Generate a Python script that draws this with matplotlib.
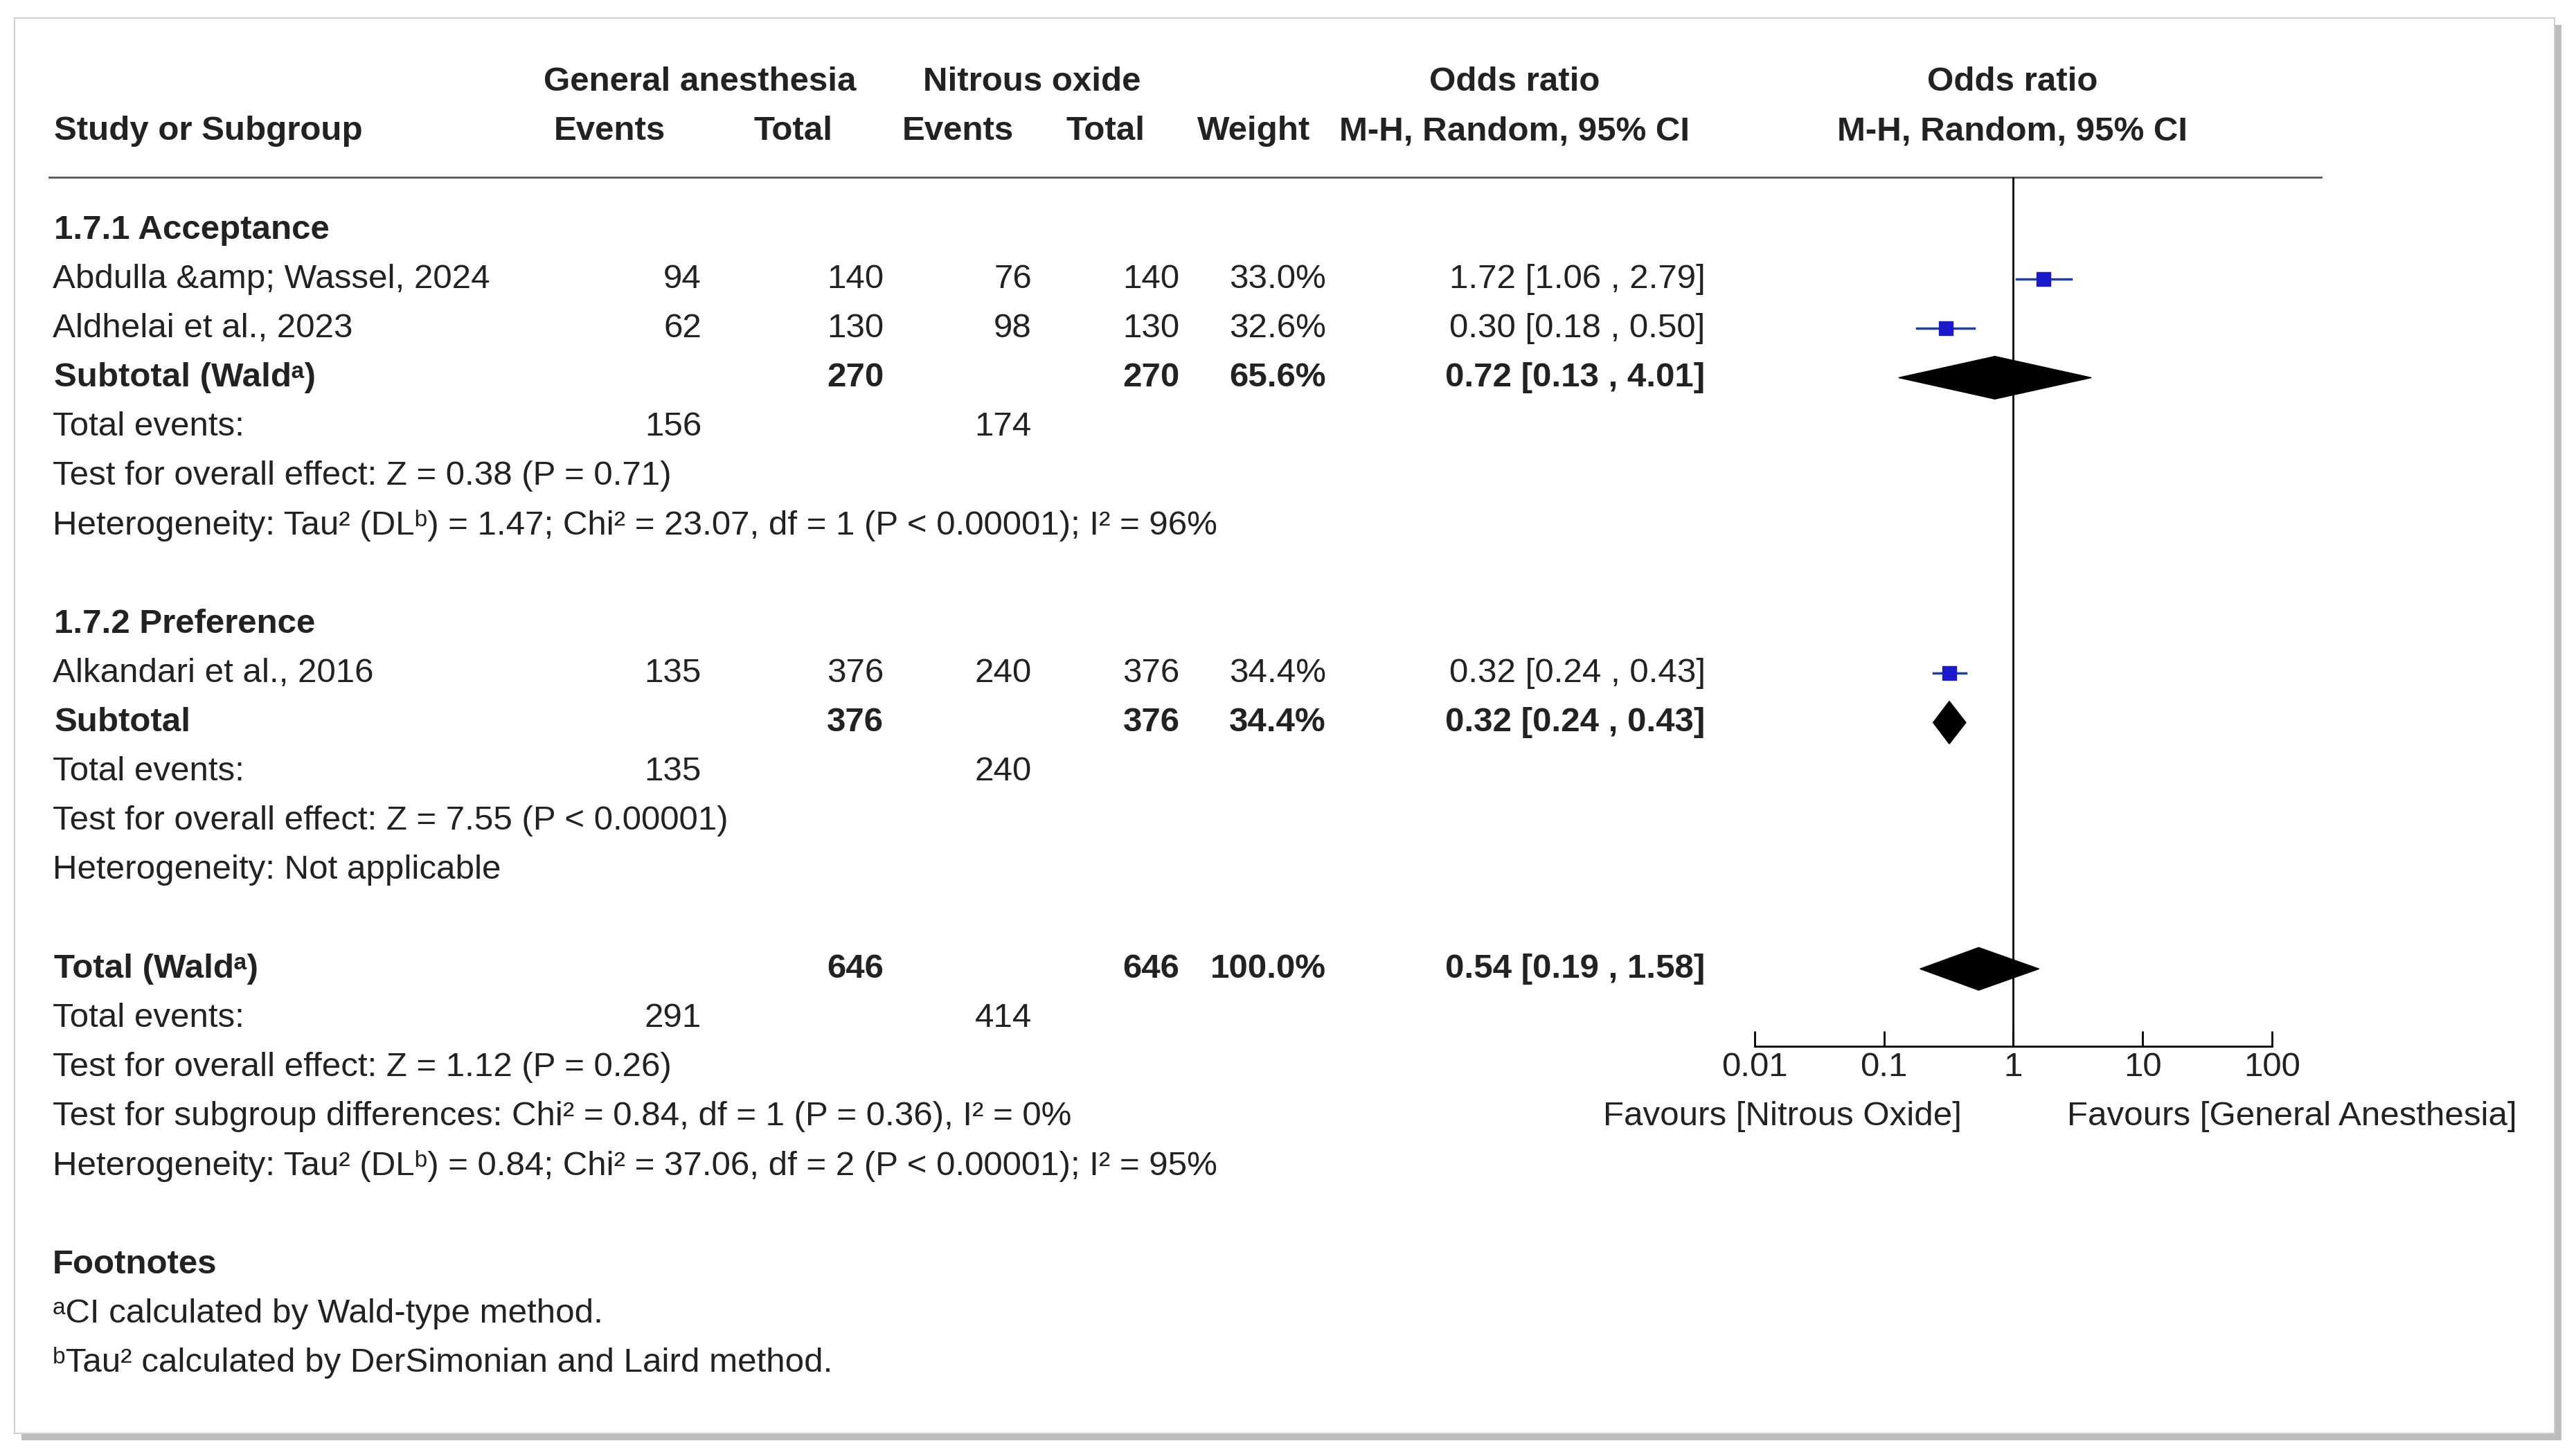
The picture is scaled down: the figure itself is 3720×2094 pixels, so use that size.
import matplotlib
matplotlib.use("Agg")
import matplotlib.pyplot as plt
from matplotlib.patches import Rectangle, Polygon
import numpy as np

W, H = 1568, 883
FS = 35.5
FAM = ['Liberation Sans', 'DejaVu Sans']

studies = ["Abdulla &amp; Wassel, 2024", "Aldhelai et al., 2023", "Alkandari et al., 2016"]
ga_events = [94, 62, 135]
ga_total = [140, 130, 376]
no_events = [76, 98, 240]
no_total = [140, 130, 376]
weights = ["33.0%", "32.6%", "34.4%"]
weight_vals = [33.0, 32.6, 34.4]
or_est = [1.72, 0.30, 0.32]
or_lo = [1.06, 0.18, 0.24]
or_hi = [2.79, 0.50, 0.43]
study_rows = [1, 2, 9]

sub_rows = [3, 10, 15]
sub_labels = ["Subtotal (Waldᵃ)", "Subtotal", "Total (Waldᵃ)"]
sub_ga_total = [270, 376, 646]
sub_no_total = [270, 376, 646]
sub_weight = ["65.6%", "34.4%", "100.0%"]
sub_est = [0.72, 0.32, 0.54]
sub_lo = [0.13, 0.24, 0.19]
sub_hi = [4.01, 0.43, 1.58]

ticks = [0.01, 0.1, 1, 10, 100]
tick_labels = ["0.01", "0.1", "1", "10", "100"]

def ry(r):
    return 140 + 30 * r

fig = plt.figure(figsize=(37.2, 20.94), dpi=100)
ax = fig.add_axes([0, 0, 1, 1])
ax.set_xlim(0, W); ax.set_ylim(H, 0); ax.axis('off')

ax.add_patch(Rectangle((13, 15), 1546, 862, facecolor='#bdbdbd', edgecolor='none', zorder=0))
ax.add_patch(Rectangle((9, 11), 1546, 862, facecolor='white', edgecolor='#d0d0d0', lw=1.5, zorder=1))

def T(x, y, s, ha='left', bold=False, size=FS):
    ax.text(x, y, s, ha=ha, va='center', fontsize=size, family=FAM,
            fontweight='bold' if bold else 'normal', color='#222222', zorder=3)

T(426, 50, "General anesthesia", 'center', True)
T(628, 50, "Nitrous oxide", 'center', True)
T(922, 50, "Odds ratio", 'center', True)
T(1225, 50, "Odds ratio", 'center', True)
T(33, 80, "Study or Subgroup", 'left', True)
T(371, 80, "Events", 'center', True)
T(483, 80, "Total", 'center', True)
T(583, 80, "Events", 'center', True)
T(673, 80, "Total", 'center', True)
T(763, 80, "Weight", 'center', True)
T(922, 80, "M-H, Random, 95% CI", 'center', True)
T(1225, 80, "M-H, Random, 95% CI", 'center', True)
ax.plot([30, 1413], [108, 108], color='#555555', lw=2, zorder=2)

T(33, ry(0), "1.7.1 Acceptance", bold=True)
T(33, ry(8), "1.7.2 Preference", bold=True)

for i, r in enumerate(study_rows):
    y = ry(r)
    T(32, y, studies[i])
    T(427, y, str(ga_events[i]), 'right')
    T(538, y, str(ga_total[i]), 'right')
    T(628, y, str(no_events[i]), 'right')
    T(718, y, str(no_total[i]), 'right')
    T(807, y, weights[i], 'right')
    T(1038, y, f"{or_est[i]:.2f} [{or_lo[i]:.2f} , {or_hi[i]:.2f}]", 'right')

for i, r in enumerate(sub_rows):
    y = ry(r)
    T(33, y, sub_labels[i], bold=True)
    T(538, y, str(sub_ga_total[i]), 'right', True)
    T(718, y, str(sub_no_total[i]), 'right', True)
    T(807, y, sub_weight[i], 'right', True)
    T(1038, y, f"{sub_est[i]:.2f} [{sub_lo[i]:.2f} , {sub_hi[i]:.2f}]", 'right', True)

other = [
    (4, "Total events:", "156", "174"),
    (5, "Test for overall effect: Z = 0.38 (P = 0.71)", None, None),
    (6, "Heterogeneity: Tau² (DLᵇ) = 1.47; Chi² = 23.07, df = 1 (P < 0.00001); I² = 96%", None, None),
    (11, "Total events:", "135", "240"),
    (12, "Test for overall effect: Z = 7.55 (P < 0.00001)", None, None),
    (13, "Heterogeneity: Not applicable", None, None),
    (16, "Total events:", "291", "414"),
    (17, "Test for overall effect: Z = 1.12 (P = 0.26)", None, None),
    (18, "Test for subgroup differences: Chi² = 0.84, df = 1 (P = 0.36), I² = 0%", None, None),
    (19, "Heterogeneity: Tau² (DLᵇ) = 0.84; Chi² = 37.06, df = 2 (P < 0.00001); I² = 95%", None, None),
]
for r, s, a, b in other:
    T(32, ry(r), s)
    if a:
        T(427, ry(r), a, 'right')
        T(628, ry(r), b, 'right')

T(32, 770, "Footnotes", bold=True)
T(32, 800, "ᵃCI calculated by Wald-type method.")
T(32, 830, "ᵇTau² calculated by DerSimonian and Laird method.")

x0, x1, yt, yb = 1068, 1383, 108, 637
fx = fig.add_axes([x0 / W, 1 - yb / H, (x1 - x0) / W, (yb - yt) / H])
fx.set_xscale('log'); fx.set_xlim(0.01, 100); fx.set_ylim(yb, yt)
for s in ['top', 'right', 'left']:
    fx.spines[s].set_visible(False)
fx.spines['bottom'].set_linewidth(2)
fx.set_yticks([])
fx.set_xticks(ticks); fx.set_xticklabels(tick_labels, fontsize=FS, family=FAM, color='#222222')
fx.minorticks_off()
fx.tick_params(axis='x', direction='in', length=16, width=2, pad=6)
fx.patch.set_alpha(0)
fx.axvline(1, color='black', lw=2)

for i, r in enumerate(study_rows):
    y = ry(r)
    fx.plot([or_lo[i], or_hi[i]], [y, y], color='#1f3fa8', lw=2.5, zorder=3)
    fx.plot(or_est[i], y, marker='s', color='#1a1acc', ms=4 + weight_vals[i] * 0.3, zorder=4)

for i, r in enumerate(sub_rows):
    y = ry(r)
    fx.add_patch(Polygon([(sub_lo[i], y), (sub_est[i], y - 13), (sub_hi[i], y), (sub_est[i], y + 13)],
                         closed=True, facecolor='black', edgecolor='black', zorder=4))

T(1085, 680, "Favours [Nitrous Oxide]", 'center')
T(1395, 680, "Favours [General Anesthesia]", 'center')

fig.savefig("out.png", dpi=100)
